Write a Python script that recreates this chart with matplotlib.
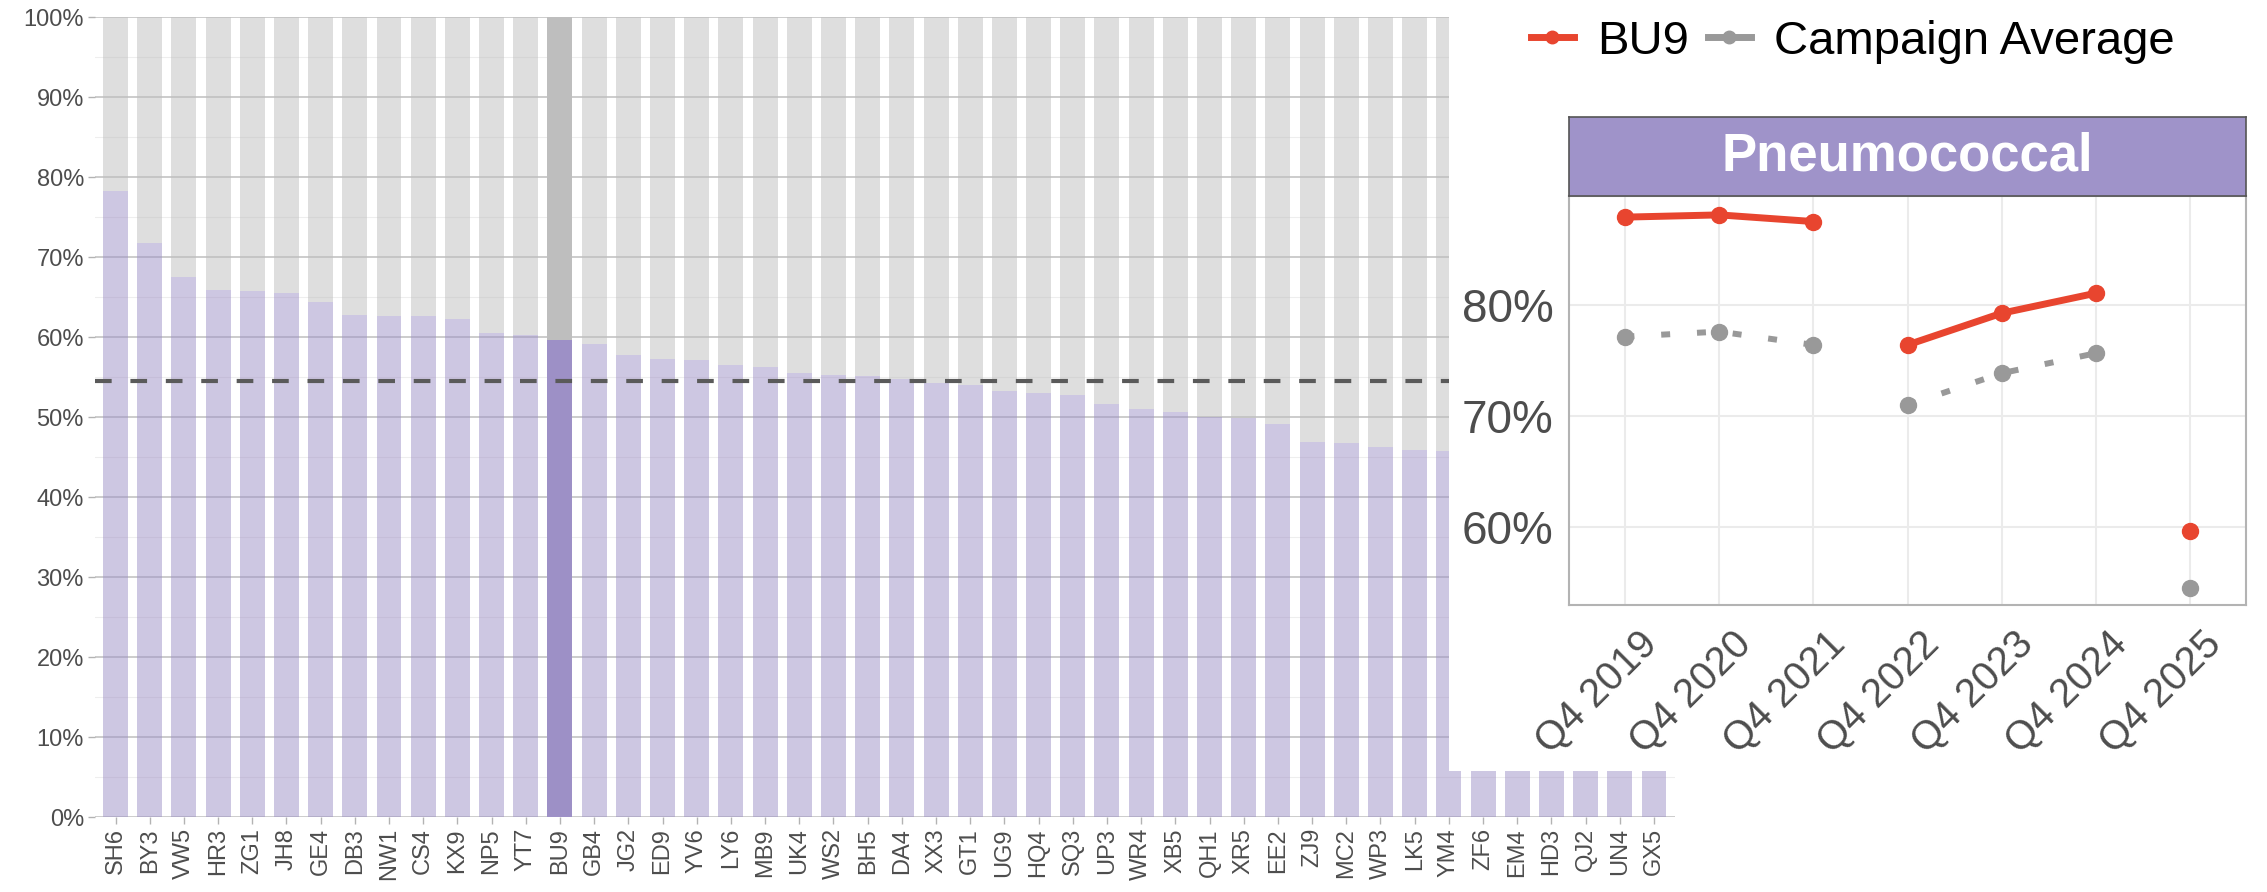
import numpy as np
import matplotlib.pyplot as plt
import matplotlib.transforms as mtransforms
from matplotlib.lines import Line2D
from matplotlib.patches import Rectangle
from matplotlib.colors import to_rgba

plt.rcParams['font.family'] = ['Liberation Sans', 'DejaVu Sans']

############### DATA ###############
units = ['SH6', 'BY3', 'VW5', 'HR3', 'ZG1', 'JH8', 'GE4', 'DB3', 'NW1', 'CS4',
         'KX9', 'NP5', 'YT7', 'BU9', 'GB4', 'JG2', 'ED9', 'YV6', 'LY6', 'MB9',
         'UK4', 'WS2', 'BH5', 'DA4', 'XX3', 'GT1', 'UG9', 'HQ4', 'SQ3', 'UP3',
         'WR4', 'XB5', 'QH1', 'XR5', 'EE2', 'ZJ9', 'MC2', 'WP3', 'LK5', 'YM4',
         'ZF6', 'EM4', 'HD3', 'QJ2', 'UN4', 'GX5']
uptake = [0.783, 0.718, 0.675, 0.659, 0.657, 0.655, 0.644, 0.628, 0.626, 0.626,
          0.622, 0.605, 0.602, 0.596, 0.591, 0.577, 0.573, 0.571, 0.565, 0.563,
          0.555, 0.553, 0.551, 0.547, 0.543, 0.540, 0.532, 0.530, 0.527, 0.516,
          0.510, 0.506, 0.500, 0.499, 0.491, 0.469, 0.467, 0.463, 0.459, 0.457,
          0.452, 0.448, 0.439, 0.425, 0.401, 0.374]   # last six hidden behind inset
highlight = 'BU9'
campaign_avg_now = 0.545

quarters = ['Q4 2019', 'Q4 2020', 'Q4 2021', 'Q4 2022', 'Q4 2023', 'Q4 2024', 'Q4 2025']
segment = [0, 0, 0, 1, 1, 1, 2]
bu9_trend = [0.879, 0.881, 0.875, 0.764, 0.7925, 0.8105, 0.597]
avg_trend = [0.7715, 0.776, 0.764, 0.710, 0.7385, 0.7565, 0.545]

############### COLOURS ###############
purple = '#9D90C6'
grey = '#BEBEBE'
red = '#E8452F'
avg_grey = '#999999'
txt = '#4D4D4D'

W, H = 2267, 892
fig = plt.figure(figsize=(W / 100, H / 100), dpi=100)

def box(x0, y0, x1, y1):
    return [x0 / W, 1 - y1 / H, (x1 - x0) / W, (y1 - y0) / H]

############### BAR CHART ###############
ax = fig.add_axes(box(95, 17, 1674.5, 817))
x = np.arange(len(units))
vals = np.array(uptake)
fg = [to_rgba(purple, 1.0 if u == highlight else 0.5) for u in units]
bg = [to_rgba(grey, 1.0 if u == highlight else 0.5) for u in units]
ax.bar(x, vals, width=0.73, color=fg, zorder=2)
ax.bar(x, 1 - vals, bottom=vals, width=0.73, color=bg, zorder=2)
ax.axhline(campaign_avg_now, color='#5a5a5a', lw=3, ls=(0, (4, 4.5)), zorder=3)

ax.set_xlim(-0.6, len(units) - 0.4)
ax.set_ylim(0, 1)
ax.set_xticks(x)
ax.set_xticklabels(units, rotation=90)
ax.set_yticks(np.arange(0, 1.01, 0.1))
ax.set_yticklabels(['{:.0f}%'.format(v * 100) for v in np.arange(0, 1.01, 0.1)])
ax.set_yticks(np.arange(0.05, 1, 0.1), minor=True)
ax.grid(axis='y', which='major', color='#C8C8C8', lw=1.3, zorder=0)
ax.grid(axis='y', which='minor', color='#EEEEEE', lw=0.8, zorder=0)
ax.set_axisbelow(True)
for s in ax.spines.values():
    s.set_visible(False)
ax.tick_params(axis='both', which='major', labelsize=17, labelcolor=txt,
               color='#B3B3B3', length=5, width=1, pad=3)
ax.tick_params(axis='both', which='minor', length=0)

############### INSET ###############
fig.add_artist(Rectangle((1449 / W, 1 - 771 / H), (W - 1449) / W, 771 / H,
                         transform=fig.transFigure, facecolor='white',
                         edgecolor='none', zorder=5))

ax2 = fig.add_axes(box(1569, 196, 2246, 605), zorder=6)
xq = np.arange(len(quarters))
seg = np.array(segment)
for sid in np.unique(seg):
    m = seg == sid
    ax2.plot(xq[m], np.array(avg_trend)[m], color=avg_grey, lw=4.3,
             ls=(0, (1.5, 4.5)), marker='o', ms=11.5, zorder=3)
for sid in np.unique(seg):
    m = seg == sid
    ax2.plot(xq[m], np.array(bu9_trend)[m], color=red, lw=5,
             marker='o', ms=11.5, zorder=4, solid_capstyle='round')

ax2.set_xlim(-0.6, 6.6)
ax2.set_ylim(0.530, 0.898)
ax2.set_yticks([0.6, 0.7, 0.8])
ax2.set_yticklabels(['60%', '70%', '80%'])
ax2.set_xticks(xq)
ax2.set_xticklabels(quarters, rotation=45, ha='right', va='top', rotation_mode='anchor')
ax2.grid(color='#EBEBEB', lw=1.5, zorder=0)
ax2.set_axisbelow(True)
for s in ax2.spines.values():
    s.set_color('#B3B3B3')
    s.set_linewidth(1.5)
ax2.tick_params(axis='y', labelsize=33, labelcolor=txt, length=0, pad=11)
ax2.tick_params(axis='x', labelsize=29, labelcolor=txt, length=0, pad=14)
shift = mtransforms.ScaledTranslation(12 / 100, 0, fig.dpi_scale_trans)
for lab in ax2.get_xticklabels():
    lab.set_transform(lab.get_transform() + shift)

# facet strip
strip = fig.add_axes(box(1569, 117, 2246, 196), zorder=6)
strip.set_facecolor('#9F93C9')
strip.set_xticks([])
strip.set_yticks([])
for s in strip.spines.values():
    s.set_color('#555555')
    s.set_linewidth(1.2)
strip.text(0.5, 0.5, 'Pneumococcal', color='white', fontsize=38, fontweight='bold',
           ha='center', va='center', transform=strip.transAxes)

# legend
handles = [Line2D([], [], color=red, lw=5, marker='o', ms=9),
           Line2D([], [], color=avg_grey, lw=5, marker='o', ms=9)]
leg = fig.legend(handles, ['BU9', 'Campaign Average'], loc='center',
                 bbox_to_anchor=(1853 / W, 1 - 42 / H), ncol=2, frameon=False,
                 fontsize=34, handlelength=0.9, handletextpad=0.5,
                 columnspacing=0.4)
leg.set_zorder(7)

fig.savefig('out.png', dpi=100)
